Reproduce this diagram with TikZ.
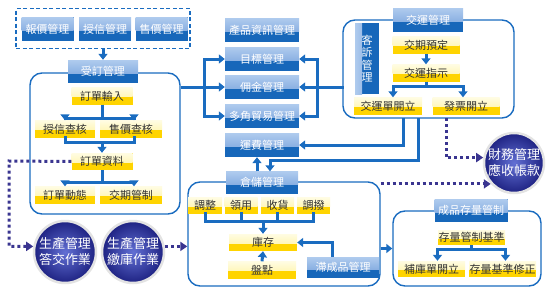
\documentclass[tikz,border=0pt]{standalone}
\usepackage{fontspec}
\newfontfamily\cjk{Noto Sans CJK TC}
\usetikzlibrary{arrows.meta,calc,shapes.geometric}
\definecolor{bdark}{HTML}{1767BA}
\definecolor{btop}{HTML}{AFCBEE}
\definecolor{bmid}{HTML}{6E9CD9}
\definecolor{lblue}{HTML}{1A6CC0}
\definecolor{ytop}{HTML}{FFFCE2}
\definecolor{ymid}{HTML}{FFF29A}
\definecolor{ydark}{HTML}{FFD400}
\definecolor{dotc}{HTML}{3A3590}
\definecolor{cin}{HTML}{6270D4}
\definecolor{cout}{HTML}{1E2282}
\definecolor{txt}{HTML}{333333}
\begin{document}
\begin{tikzpicture}[x=1pt,y=-1pt,
  bbox/.style={rectangle, fill=bdark, text=white, inner sep=0pt,
    font=\cjk\fontsize{11}{11}\selectfont, minimum width=#1, minimum height=24pt,
    path picture={\shade[top color=btop,bottom color=bmid]
      (path picture bounding box.north west) rectangle
      ($(path picture bounding box.north east)!0.58!(path picture bounding box.south east)$);}},
  bbox/.default=70pt,
  ybox/.style={rectangle, fill=ydark, text=txt, inner sep=0pt,
    font=\cjk\fontsize{11}{11}\selectfont, minimum width=#1, minimum height=17pt,
    path picture={\shade[top color=ytop,bottom color=ymid]
      (path picture bounding box.north west) rectangle
      ($(path picture bounding box.north east)!0.55!(path picture bounding box.south east)$);}},
  ybox/.default=66pt,
  grp/.style={rectangle, draw=lblue, line width=1.4pt, rounded corners=12pt, fill=white, inner sep=0pt},
  conn/.style={draw=lblue, line width=3pt, -{Triangle[length=6pt,width=9pt]}},
  line/.style={draw=lblue, line width=3pt, line cap=rect},
  dots/.style={draw=dotc, line width=3pt, dash pattern=on 3pt off 3pt, -{Triangle[length=7pt,width=9pt]}},
  circ/.style={circle, minimum size=#1, inner sep=0pt, inner color=cin, outer color=cout,
    draw=gray!22, line width=2.5pt, text=white, align=center,
    font=\cjk\fontsize{13}{16}\selectfont},
  circ/.default=62pt
]
\useasboundingbox (0,0) rectangle (550,300);

% ---------- top dashed group
\node[rectangle, draw=lblue, line width=1.5pt, dash pattern=on 4pt off 2.5pt,
      minimum width=174pt, minimum height=40pt, inner sep=0pt] (dbox) at (103,28.5) {};
\node[bbox=52pt] (bj) at (47.5,29) {報價管理};
\node[bbox=52pt] (sx) at (105,29) {授信管理};
\node[bbox=52pt] (sj) at (161.5,29) {售價管理};

% ---------- order group
\node[grp, minimum width=150pt, minimum height=141pt] (ordbox) at (105,143.5) {};
\node[bbox=70pt, minimum height=23pt] (ohd) at (103,71.5) {受訂管理};
\node[ybox=61pt] (oin) at (102,96) {訂單輸入};
\node[ybox=60pt] (ocr) at (65,129) {授信查核};
\node[ybox=62pt] (opr) at (131,129) {售價查核};
\node[ybox=61pt] (odata) at (102,161.5) {訂單資料};
\node[ybox=60pt] (ost) at (65,195) {訂單動態};
\node[ybox=62pt] (oct) at (131,195) {交期管制};

\draw[conn] (dbox.south -| ohd.north) -- (ohd.north);
\draw[conn] (oin.south) -- ++(0,14) -| (ocr.north);
\draw[conn] (oin.south) -- ++(0,14) -| ([xshift=3pt]opr.north);
\draw[line] (ocr.south) -- ++(0,5) coordinate (m1) -| ([xshift=3pt]opr.south);
\draw[conn] (m1 -| odata.north) -- (odata.north);
\draw[conn] (odata.south) -- ++(0,12) -| (ost.north);
\draw[conn] (odata.south) -- ++(0,12) -| ([xshift=3pt]oct.north);

% ---------- middle column
\node[bbox=74pt] (cp) at (262,30) {產品資訊管理};
\node[bbox=74pt] (mb) at (262,59) {目標管理};
\node[bbox=74pt] (yj) at (262,87) {佣金管理};
\node[bbox=74pt] (dj) at (262,116) {多角貿易管理};
\node[bbox=74pt] (fy) at (262,145) {運費管理};

\coordinate (lb) at (204,87);
\coordinate (rb) at (317,87);
\draw[line] (lb |- mb.west) -- (lb |- dj.west);
\draw[conn] (ordbox.east |- yj.west) -- (yj.west);
\draw[conn] (lb |- mb.west) -- (mb.west);
\draw[conn] (lb |- dj.west) -- (dj.west);

% ---------- shipping group
\node[grp, minimum width=171pt, minimum height=98pt] (shipbox) at (428.5,69) {};
\node[bbox=70pt] (shh) at (428,20) {交運管理};
\node[rectangle, fill=bdark, text=white, inner sep=0pt, minimum width=24pt, minimum height=71pt,
      align=center, font=\cjk\fontsize{11}{12.5}\selectfont,
      path picture={\shade[left color=btop,right color=bmid]
        (path picture bounding box.north west) rectangle
        ($(path picture bounding box.south west)!0.3!(path picture bounding box.south east)$);}]
      (ks) at (367,58.5) {客\\訴\\管\\理};
\node[ybox=67pt] (jq) at (426,45) {交期預定};
\node[ybox=67pt] (jy) at (426,73) {交運指示};
\node[ybox=68pt] (jd) at (388,106) {交運單開立};
\node[ybox=67pt] (fp) at (466,106) {發票開立};

\draw[conn] (jq.south) -- (jy.north);
\draw[conn] (jy.south) -- ++(0,5) -| ([xshift=5pt]jd.north);
\draw[conn] (jy.south) -- ++(0,5) -| ([xshift=-3pt]fp.north);

\draw[line] (rb |- mb.east) -- (rb |- dj.east);
\draw[line] (shipbox.west |- yj.east) -- (rb);
\draw[conn] (rb |- mb.east) -- (mb.east);
\draw[conn] (rb) -- (yj.east);
\draw[conn] (rb |- dj.east) -- (dj.east);

% ---------- warehouse group
\node[grp, minimum width=192pt, minimum height=104pt] (whbox) at (284,234) {};
\node[bbox=72pt, minimum height=22pt] (whh) at (262,182.5) {倉儲管理};
\node[ybox=34pt, minimum height=16pt] (t1) at (205,205.5) {調整};
\node[ybox=33pt, minimum height=16pt] (t2) at (241,205.5) {領用};
\node[ybox=33pt, minimum height=16pt] (t3) at (277.5,205.5) {收貨};
\node[ybox=33pt, minimum height=16pt] (t4) at (313.5,205.5) {調撥};
\node[ybox=68pt] (ku) at (263,242.5) {庫存};
\node[ybox=68pt] (pd) at (262,270) {盤點};
\node[bbox=72pt, minimum height=21pt] (zc) at (343,267.5) {滯成品管理};

\coordinate (s1) at (403,118);
\coordinate (s2) at (418,118);
\coordinate (w1) at (257,160);
\coordinate (w2) at (270,160);
\draw[conn] (s1) |- (fy.east);
\draw[conn] (s2) |- (w2) -- (w2 |- whh.north);
\draw[conn] (w1 |- whh.north) -- (w1 |- fy.south);

\draw[line] (t1.south) -- ++(0,8) -| (t4.south);
\draw[line] (t2.south) -- ++(0,8);
\draw[line] (t3.south) -- ++(0,8);
\draw[conn] (ku.north |- 0,221) -- (ku.north);
\draw[conn] (pd.north) -- (ku.south);
\draw[conn] ([xshift=-11pt]zc.north) |- (ku.east);

% ---------- finished goods group
\node[grp, minimum width=148pt, minimum height=75pt] (fbox) at (467,248.5) {};
\node[bbox=73pt, minimum height=23pt] (fh) at (471,210.5) {成品存量管制};
\node[ybox=67pt, minimum height=15pt] (fs) at (471.5,237.5) {存量管制基準};
\node[ybox=67pt, minimum height=16pt] (fb1) at (431.5,269) {補庫單開立};
\node[ybox=67pt, minimum height=16pt] (fb2) at (502.5,269) {存量基準修正};
\draw[conn] (fs.south) -- ++(0,4) -| ([xshift=6pt]fb1.north);
\draw[conn] (fs.south) -- ++(0,4) -| ([xshift=3pt]fb2.north);
\draw[conn] (whbox.east |- fbox.west) -- (fbox.west);

% ---------- circles
\node[circ] (c1) at (65,252) {生產管理\\答交作業};
\node[circ] (c2) at (133,252) {生產管理\\繳庫作業};
\node[circ=60pt] (fin) at (514,163) {財務管理\\應收帳款};

% ---------- dotted flows
\coordinate (dv) at (446,118);
\coordinate (dl) at (9,161);
\draw[dots] (odata.west) -- (dl) |- (c1.170);
\draw[dots] (c2.10) -- (whbox.west |- c2.10);
\draw[dots] (dv) |- (fin.170);
\draw[dots] (whbox.north east |- fin.222) -- (fin.222);
\end{tikzpicture}
\end{document}
